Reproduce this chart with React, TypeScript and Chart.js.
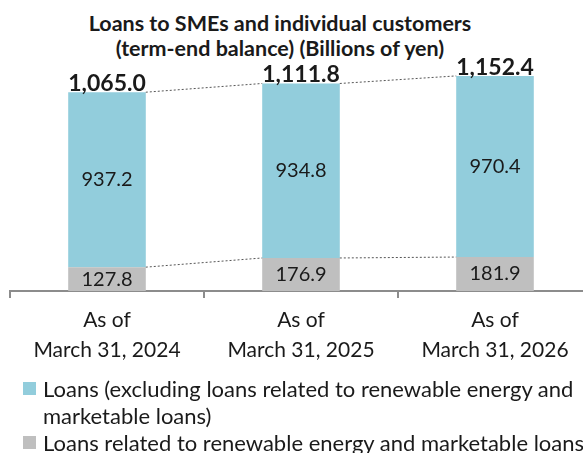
import React, { useEffect, useRef } from 'react';
import { Chart, registerables } from 'chart.js';

Chart.register(...registerables);

const TITLE_LINES = ['Loans to SMEs and individual customers', '(term-end balance) (Billions of yen)'];
const CATEGORIES = [
  ['As of', 'March 31, 2024'],
  ['As of', 'March 31, 2025'],
  ['As of', 'March 31, 2026'],
];
const RENEWABLE_LOANS = [127.8, 176.9, 181.9];
const OTHER_LOANS = [937.2, 934.8, 970.4];
const TOTALS = [1065.0, 1111.8, 1152.4];
const LEGEND_OTHER_LINES = ['Loans (excluding loans related to renewable energy and', 'marketable loans)'];
const LEGEND_RENEWABLE = 'Loans related to renewable energy and marketable loans';

const BLUE = '#92CDDC';
const GRAY = '#BFBFBF';
const TEXT = '#1a1a1a';
const FONT = 'Lato';

const fmt = (v: number) => v.toLocaleString('en-US', { minimumFractionDigits: 1, maximumFractionDigits: 1 });

const overlayPlugin = {
  id: 'overlay',
  afterDatasetsDraw(chart: any) {
    const ctx = chart.ctx;
    const metaBottom = chart.getDatasetMeta(0);
    const metaTop = chart.getDatasetMeta(1);
    ctx.save();
    // connector lines
    ctx.strokeStyle = '#555555';
    ctx.lineWidth = 1;
    ctx.setLineDash([2, 2]);
    [metaBottom, metaTop].forEach((meta: any) => {
      for (let i = 0; i < meta.data.length - 1; i++) {
        const a = meta.data[i];
        const b = meta.data[i + 1];
        ctx.beginPath();
        ctx.moveTo(a.x + a.width / 2, a.y);
        ctx.lineTo(b.x - b.width / 2, b.y);
        ctx.stroke();
      }
    });
    ctx.setLineDash([]);
    // inner labels
    ctx.fillStyle = TEXT;
    ctx.textAlign = 'center';
    ctx.textBaseline = 'middle';
    ctx.font = `20px ${FONT}`;
    chart.data.datasets.forEach((ds: any, di: number) => {
      const meta = chart.getDatasetMeta(di);
      meta.data.forEach((el: any, i: number) => {
        ctx.fillText(fmt(ds.data[i]), el.x, (el.y + el.base) / 2);
      });
    });
    // totals
    ctx.font = `bold 23px ${FONT}`;
    ctx.textBaseline = 'alphabetic';
    metaTop.data.forEach((el: any, i: number) => {
      ctx.fillText(fmt(TOTALS[i]), el.x, el.y - 1);
    });
    ctx.restore();
  },
};

export default function App() {
  const canvasRef = useRef<HTMLCanvasElement | null>(null);

  useEffect(() => {
    if (!canvasRef.current) return;
    const chart = new Chart(canvasRef.current, {
      type: 'bar',
      data: {
        labels: CATEGORIES,
        datasets: [
          {
            label: LEGEND_RENEWABLE,
            data: RENEWABLE_LOANS,
            backgroundColor: GRAY,
            borderWidth: 0,
            barPercentage: 0.4,
            categoryPercentage: 1,
          },
          {
            label: LEGEND_OTHER_LINES.join(' '),
            data: OTHER_LOANS,
            backgroundColor: BLUE,
            borderWidth: 0,
            barPercentage: 0.4,
            categoryPercentage: 1,
          },
        ],
      },
      options: {
        responsive: false,
        animation: false,
        devicePixelRatio: 1,
        layout: { padding: { left: 10, right: 8, top: 67, bottom: 0 } },
        plugins: {
          legend: { display: false },
          title: { display: false },
          tooltip: { enabled: false },
        },
        scales: {
          y: { display: false, stacked: true, min: 0, max: 1200 },
          x: {
            stacked: true,
            grid: {
              display: true,
              drawOnChartArea: false,
              drawTicks: true,
              tickLength: 7,
              color: '#8c8c8c',
              lineWidth: 2,
              offset: true,
            },
            border: { display: true, color: '#8c8c8c', width: 2 },
            ticks: {
              color: TEXT,
              font: { family: FONT, size: 21, lineHeight: 30 / 21 },
              padding: 7,
              maxRotation: 0,
              autoSkip: false,
            },
            afterFit: (s: any) => {
              s.height = 89;
            },
          },
        },
      },
      plugins: [overlayPlugin],
    });
    return () => chart.destroy();
  }, []);

  return (
    <div
      style={{
        position: 'fixed',
        left: 0,
        top: 0,
        width: 583,
        height: 453,
        overflow: 'hidden',
        background: '#ffffff',
        fontFamily: FONT,
        color: TEXT,
      }}
    >
      <div
        style={{
          position: 'absolute',
          left: 0,
          top: 11,
          width: 560,
          textAlign: 'center',
          fontWeight: 'bold',
          fontSize: 21.5,
          lineHeight: '25px',
          whiteSpace: 'nowrap',
        }}
      >
        {TITLE_LINES.map((t, i) => (
          <div key={i}>{t}</div>
        ))}
      </div>
      <canvas
        ref={canvasRef}
        width={600}
        height={380}
        style={{ position: 'absolute', left: 0, top: 0, width: 600, height: 380 }}
      />
      <div
        style={{
          position: 'absolute',
          left: 0,
          top: 375,
          width: 640,
          fontSize: 22,
          lineHeight: '27px',
          whiteSpace: 'nowrap',
        }}
      >
        <div style={{ position: 'relative', paddingLeft: 43 }}>
          <span style={{ position: 'absolute', left: 23, top: 7, width: 13, height: 13, background: BLUE }} />
          {LEGEND_OTHER_LINES[0]}
        </div>
        <div style={{ paddingLeft: 43 }}>{LEGEND_OTHER_LINES[1]}</div>
        <div style={{ position: 'relative', paddingLeft: 43 }}>
          <span style={{ position: 'absolute', left: 23, top: 7, width: 13, height: 13, background: GRAY }} />
          {LEGEND_RENEWABLE}
        </div>
      </div>
    </div>
  );
}
